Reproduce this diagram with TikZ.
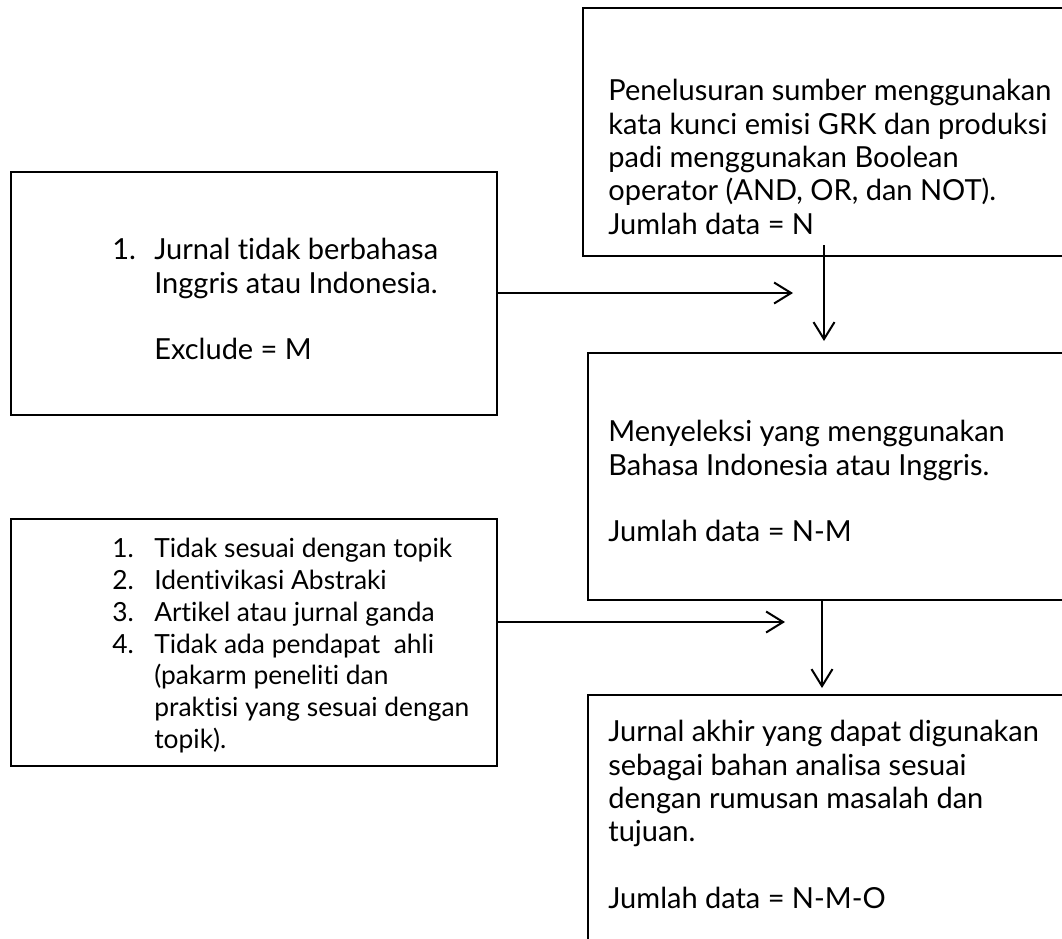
\documentclass[tikz,border=0pt]{standalone}
\usepackage{fontspec}
\setmainfont{Lato}[Ligatures={NoCommon}]
\usetikzlibrary{arrows.meta,fit}

\tikzset{
  box/.style={draw, line width=1.15pt, inner sep=0pt},
  txt/.style={anchor=north west, align=left, inner sep=0pt, font=\fontsize{16.5}{19}\selectfont},
  smalltxt/.style={txt, font=\fontsize{15}{18.1}\selectfont},
  arr/.style={->, >={Straight Barb[length=3.4mm,width=4.2mm]}, line width=1.15pt}
}

\begin{document}
\begin{tikzpicture}[x=0.02cm, y=-0.02cm]
    \useasboundingbox (0,0) rectangle (1062,938);
    \clip (0,0) rectangle (1062,938);

    % Draw the boxes
    \node[box, fit={(583,8) (1090,256)}] (search) {};
    \node[box, fit={(11,172) (497,415)}] (exclude) {};
    \node[box, fit={(588,353) (1090,600)}] (select) {};
    \node[box, fit={(11,519) (497,766)}] (criteria) {};
    \node[box, fit={(588,695) (1090,960)}] (final) {};

    % Place the box texts
    \node[txt] (searchtext) at ([shift={(26,72)}]search.north west)
        {Penelusuran sumber menggunakan\\kata kunci emisi GRK dan produksi\\padi menggunakan Boolean\\operator (AND, OR, dan NOT).\\Jumlah data = N};
    \node[txt] (excludetext) at ([shift={(102,67)}]exclude.north west)
        {\makebox[0.84cm][l]{1.}Jurnal tidak berbahasa\\\hspace*{0.84cm}Inggris atau Indonesia.\\[19pt]\hspace*{0.84cm}Exclude = M};
    \node[txt] (selecttext) at ([shift={(21,68)}]select.north west)
        {Menyeleksi yang menggunakan\\Bahasa Indonesia atau Inggris.\\[19pt]Jumlah data = N-M};
    \node[smalltxt] (criteriatext) at ([shift={(102,20)}]criteria.north west)
        {\makebox[0.84cm][l]{1.}Tidak sesuai dengan topik\\\makebox[0.84cm][l]{2.}Identivikasi Abstraki\\\makebox[0.84cm][l]{3.}Artikel atau jurnal ganda\\\makebox[0.84cm][l]{4.}Tidak ada pendapat\ \ ahli\\\hspace*{0.84cm}(pakarm peneliti dan\\\hspace*{0.84cm}praktisi yang sesuai dengan\\\hspace*{0.84cm}topik).};
    \node[txt] (finaltext) at ([shift={(21,26)}]final.north west)
        {Jurnal akhir yang dapat digunakan\\sebagai bahan analisa sesuai\\dengan rumusan masalah dan\\tujuan.\\[19pt]Jumlah data = N-M-O};

    % Free ends of the arrows
    \coordinate (tipA) at (793,293);
    \coordinate (tipD) at (785,622);
    \coordinate (down1) at (824,245);
    \coordinate (tip1) at (824,341);
    \coordinate (tip2) at (822,688);

    % Draw the arrows
    \draw[arr] (exclude.east |- tipA) -- (tipA);
    \draw[arr] (criteria.east |- tipD) -- (tipD);
    \draw[arr] (down1) -- (tip1);
    \draw[arr] (select.south -| tip2) -- (tip2);
\end{tikzpicture}
\end{document}
